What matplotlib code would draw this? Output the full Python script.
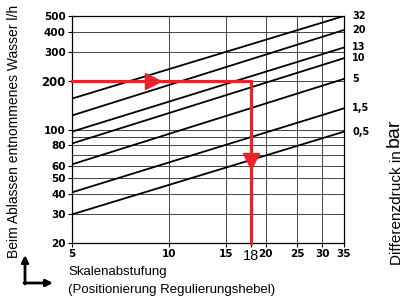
import matplotlib
matplotlib.use("Agg")
import matplotlib.pyplot as plt

plt.rcParams['font.family'] = ['Liberation Sans', 'DejaVu Sans']

# ---- data ----
x_ticks = [5, 10, 15, 18, 20, 25, 30, 35]
x_tick_labels = ['5', '10', '15', '18', '20', '25', '30', '35']
y_ticks = [20, 30, 40, 50, 60, 80, 100, 200, 300, 400, 500]
y_tick_labels = ['20', '30', '40', '50', '60', '80', '100', '200', '300', '400', '500']
h_grid = [20, 30, 40, 50, 60, 70, 80, 90, 100, 200, 300, 400, 500]
v_grid = [10, 15, 20, 25, 30]

# differential pressure curves (flow at setting 5 and at setting 35)
dp_labels = ['32', '20', '13', '10', '5', '1,5', '0,5']
flow_at_5 = [155, 122, 97, 82, 61, 41, 30]
flow_at_35 = [500, 410, 320, 275, 205, 135, 97]

# example reading
read_flow = 200
read_setting = 18

RED = '#e8232a'
TICKFONT = 'DejaVu Sans'

fig = plt.figure(figsize=(4.07, 2.98), dpi=100)
ax = fig.add_axes([72 / 407, 55 / 298, 272 / 407, 227 / 298])
ax.set_xscale('log')
ax.set_yscale('log')
ax.set_xlim(5, 35)
ax.set_ylim(20, 500)

# grid
for v in h_grid:
    ax.axhline(v, color='#444444', lw=0.7, zorder=1)
for v in v_grid:
    ax.axvline(v, color='#444444', lw=0.7, zorder=1)

# pressure lines
for lo, hi, lab in zip(flow_at_5, flow_at_35, dp_labels):
    ax.plot([5, 35], [lo, hi], color='black', lw=1.3, zorder=2)
    ax.annotate(lab, xy=(35, hi), xytext=(6, 0), textcoords='offset points',
                ha='left', va='center', fontsize=7, fontweight='bold',
                family=TICKFONT, annotation_clip=False)

# red reading path
ax.plot([5, read_setting, read_setting], [read_flow, read_flow, 20],
        color=RED, lw=2.3, zorder=4, solid_joinstyle='miter', clip_on=False)
ax.plot([8.9], [read_flow], marker='>', color=RED, ms=11, zorder=5)
ax.plot([read_setting], [64], marker='v', color=RED, ms=11, zorder=5)

# axes styling
for s in ax.spines.values():
    s.set_linewidth(0.9)
ax.set_xticks(x_ticks, labels=x_tick_labels)
ax.set_yticks(y_ticks, labels=y_tick_labels)
ax.minorticks_off()
ax.tick_params(axis='both', length=3, width=0.8, pad=1.5, labelsize=7.5)
for t in ax.get_xticklabels() + ax.get_yticklabels():
    t.set_fontweight('bold')
    t.set_family(TICKFONT)
for t in ax.get_yticklabels():
    if t.get_text() == '200':
        t.set_fontsize(8.5)
for t in ax.get_xticklabels():
    if t.get_text() == '18':
        t.set_family('Liberation Sans')
        t.set_fontsize(10.5)
        t.set_fontweight('normal')

# axis titles
fig.text(14 / 407, 1 - 131 / 298, 'Beim Ablassen entnommenes Wasser l/h',
         rotation=90, ha='center', va='center', fontsize=10)
fig.text(68 / 407, 1 - 272 / 298, 'Skalenabstufung', ha='left', va='center', fontsize=9.5)
fig.text(68 / 407, 1 - 290 / 298, '(Positionierung Regulierungshebel)',
         ha='left', va='center', fontsize=9.5)
t1 = fig.text(397 / 407, 1 - 265 / 298, 'Differenzdruck in', rotation=90,
              ha='center', va='bottom', fontsize=11)
fig.canvas.draw()
top = t1.get_window_extent().y1
fig.text(394 / 407, (top + 3) / 298, 'bar', rotation=90, ha='center', va='bottom',
         fontsize=14)

# L-shaped arrow bottom-left
ax.annotate('', xy=(25, 298 - 255), xytext=(25, 298 - 284), xycoords='figure pixels',
            textcoords='figure pixels', annotation_clip=False,
            arrowprops=dict(arrowstyle='-|>', lw=2, color='black', mutation_scale=10,
                            shrinkA=0, shrinkB=0))
ax.annotate('', xy=(53, 298 - 283), xytext=(24, 298 - 283), xycoords='figure pixels',
            textcoords='figure pixels', annotation_clip=False,
            arrowprops=dict(arrowstyle='-|>', lw=2, color='black', mutation_scale=10,
                            shrinkA=0, shrinkB=0))

fig.savefig('out.png', dpi=100)
